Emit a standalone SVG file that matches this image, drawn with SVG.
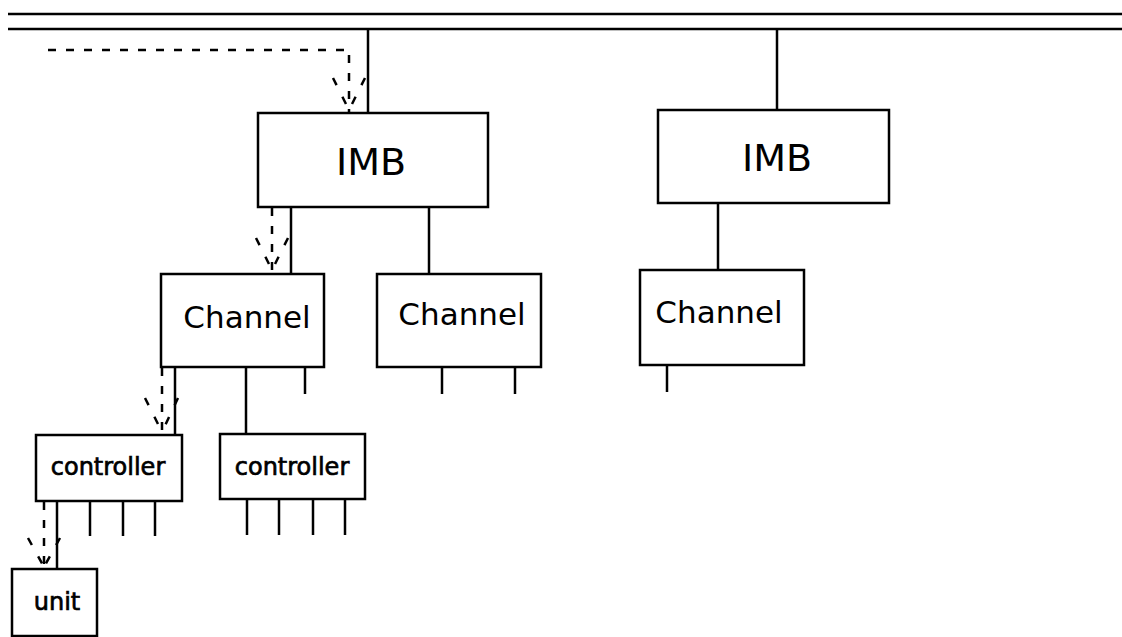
<svg xmlns="http://www.w3.org/2000/svg" width="1122" height="637" viewBox="0 0 1122 637">
<style>
.box{fill:#fff;stroke:#000;stroke-width:2.5}
.ln{fill:none;stroke:#000;stroke-width:2.5}
.ds{fill:none;stroke:#000;stroke-width:2.5;stroke-dasharray:8 10}
.ah{fill:none;stroke:#000;stroke-width:2.5;stroke-dasharray:8 13}
.t{font-family:"DejaVu Sans","Liberation Sans",sans-serif;fill:#000;text-anchor:middle}
.s{stroke:#000;stroke-width:0.7}
</style>
<rect width="1122" height="637" fill="#fff"/>
<g id="bus">
<line class="ln" x1="8" y1="14" x2="1122" y2="14"/>
<line class="ln" x1="8" y1="29" x2="1122" y2="29"/>
</g>
<g id="connectors">
<line class="ln" x1="368" y1="29" x2="368" y2="113"/>
<line class="ln" x1="777" y1="29" x2="777" y2="110"/>
<line class="ln" x1="291" y1="207" x2="291" y2="274"/>
<line class="ln" x1="429" y1="207" x2="429" y2="274"/>
<line class="ln" x1="718" y1="203" x2="718" y2="270"/>
<line class="ln" x1="175" y1="367" x2="175" y2="435"/>
<line class="ln" x1="246" y1="367" x2="246" y2="434"/>
<line class="ln" x1="305" y1="367" x2="305" y2="394"/>
<line class="ln" x1="442" y1="367" x2="442" y2="394"/>
<line class="ln" x1="515" y1="367" x2="515" y2="394"/>
<line class="ln" x1="667" y1="365" x2="667" y2="392"/>
<line class="ln" x1="57" y1="501" x2="57" y2="569"/>
<line class="ln" x1="90" y1="501" x2="90" y2="536"/>
<line class="ln" x1="123" y1="501" x2="123" y2="536"/>
<line class="ln" x1="155" y1="501" x2="155" y2="536"/>
<line class="ln" x1="247" y1="499" x2="247" y2="535"/>
<line class="ln" x1="279" y1="499" x2="279" y2="535"/>
<line class="ln" x1="313" y1="499" x2="313" y2="535"/>
<line class="ln" x1="345" y1="499" x2="345" y2="535"/>
<path class="ds" d="M48 50 H349 V112"/>
<path class="ah" d="M333 78 L349 110 M365 78 L349 110"/>
<path class="ds" d="M272 208 V272"/>
<path class="ah" d="M256 238 L272 270 M288 238 L272 270"/>
<path class="ds" d="M162 368 V434"/>
<path class="ah" d="M145 398 L162 432 M178 398 L162 432"/>
<path class="ds" d="M44 502 V568"/>
<path class="ah" d="M28 538 L44 567 M60 538 L44 567"/>
</g>
<g id="imb1"><rect class="box" x="258" y="113" width="230" height="94"/><text class="t" x="371" y="175" font-size="38">IMB</text></g>
<g id="imb2"><rect class="box" x="658" y="110" width="231" height="93"/><text class="t" x="777" y="171" font-size="38">IMB</text></g>
<g id="channel1"><rect class="box" x="161" y="274" width="163" height="93"/><text class="t" x="247" y="328" font-size="31">Channel</text></g>
<g id="channel2"><rect class="box" x="377" y="274" width="164" height="93"/><text class="t" x="462" y="325" font-size="31">Channel</text></g>
<g id="channel3"><rect class="box" x="640" y="270" width="164" height="95"/><text class="t" x="719" y="323" font-size="31">Channel</text></g>
<g id="controller1"><rect class="box" x="36" y="435" width="146" height="66"/><text class="t s" x="108" y="475" font-size="24">controller</text></g>
<g id="controller2"><rect class="box" x="220" y="434" width="145" height="65"/><text class="t s" x="292" y="475" font-size="24">controller</text></g>
<g id="unit"><rect class="box" x="12" y="569" width="85" height="67"/><text class="t s" x="57" y="610" font-size="24">unit</text></g>
</svg>
